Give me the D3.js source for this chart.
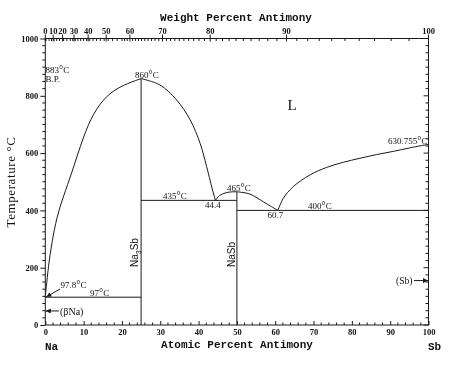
<!DOCTYPE html>
<html>
<head>
<meta charset="utf-8">
<script src="https://cdn.jsdelivr.net/npm/d3@7"></script>
<style>
  body { margin: 0; background: #fff; }
  svg { display: block; background: #fff; filter: grayscale(1); }
  text { fill: #111; }
</style>
</head>
<body>
<script>
// Na-Sb phase diagram

const W = 474, H = 372;

// axis tick values
const atTicks = [0, 10, 20, 30, 40, 50, 60, 70, 80, 90, 100];
const wtTicks = [0, 10, 20, 30, 40, 50, 60, 70, 80, 90, 100];
const tempTicks = [0, 200, 400, 600, 800, 1000];

// liquidus curves [at% Sb, T degC]
const liqNa = [[0, 97.8], [0.2, 125], [0.8, 205], [1.7, 287], [3.0, 378], [4.7, 448],
  [6.9, 530], [9.9, 657], [12.5, 739], [16, 803], [20.3, 838], [25, 860]];
const liqNa3SbRight = [[25, 860], [29.9, 838], [34.3, 785], [37.8, 716], [40.4, 634],
  [42.1, 553], [43.5, 478], [44.4, 435]];
const liqNaSbLeft = [[44.4, 435], [45.5, 452], [47, 461], [48.5, 464.5], [50, 465]];
const liqNaSbRight = [[50, 465], [53.4, 457], [56.9, 430], [58.8, 415], [60.7, 400]];
const liqSb = [[60.7, 400], [62.1, 442], [64.7, 483], [69.1, 524], [73.4, 550], [77.8, 568],
  [82.1, 582], [86.5, 595], [90.8, 606], [95.2, 618.5], [100, 630.755]];

// invariant lines and compounds
const horizLines = [[0, 25, 97], [25, 50, 435], [50, 100, 400]];
const compounds = [[25, 860], [50, 465]];

const svg = d3.select("body").append("svg").attr("width", W).attr("height", H);

const x = d3.scaleLinear().domain([0, 100]).range([45.3, 428.5]);
const y = d3.scaleLinear().domain([0, 1000]).range([325, 38.5]);

// weight % Sb -> atomic % Sb
const wtToAt = w => w >= 100 ? 100 : 100 * (w / 121.76) / (w / 121.76 + (100 - w) / 22.99);

const ink = "#1a1a1a";
const tickFont = "'Liberation Serif', serif";
const monoFont = "'Liberation Mono', 'DejaVu Sans Mono', monospace";

// frame
svg.append("rect")
  .attr("x", x(0)).attr("y", y(1000))
  .attr("width", x(100) - x(0)).attr("height", y(0) - y(1000))
  .attr("fill", "none").attr("stroke", ink).attr("stroke-width", 1);

// left axis
const gl = svg.append("g").attr("transform", `translate(${x(0)},0)`)
  .call(d3.axisLeft(y).tickValues(tempTicks).tickFormat(d3.format("d"))
    .tickSize(5).tickSizeOuter(0).tickPadding(2));
gl.select(".domain").remove();
gl.selectAll("line").attr("stroke", ink);
gl.selectAll("text").attr("font-family", tickFont).attr("font-size", 8.5)
  .attr("font-weight", "bold").attr("fill", ink);

const minorT = d3.range(0, 1001, 25).filter(t => t % 200 !== 0);
svg.append("g").selectAll("line").data(minorT).join("line")
  .attr("x1", x(0) - 3).attr("x2", x(0))
  .attr("y1", d => y(d)).attr("y2", d => y(d)).attr("stroke", ink);

// right axis ticks (inward)
svg.append("g").selectAll("line").data(d3.range(0, 1001, 25)).join("line")
  .attr("x1", d => x(100) - (d % 200 === 0 ? 5 : 3)).attr("x2", x(100))
  .attr("y1", d => y(d)).attr("y2", d => y(d)).attr("stroke", ink);

// bottom axis
const gb = svg.append("g").attr("transform", `translate(0,${y(0)})`)
  .call(d3.axisBottom(x).tickValues(atTicks).tickSize(-4).tickSizeOuter(0).tickPadding(4));
gb.select(".domain").remove();
gb.selectAll("line").attr("stroke", ink);
gb.selectAll("text").attr("font-family", tickFont).attr("font-size", 8.5)
  .attr("font-weight", "bold").attr("fill", ink);

svg.append("g").selectAll("line").data(d3.range(0, 101, 2).filter(d => d % 10 !== 0)).join("line")
  .attr("x1", d => x(d)).attr("x2", d => x(d))
  .attr("y1", y(0) - 2.5).attr("y2", y(0)).attr("stroke", ink);

// top axis (weight percent, nonlinear)
const gt = svg.append("g");
gt.selectAll("line.major").data(wtTicks).join("line").attr("class", "major")
  .attr("x1", d => x(wtToAt(d))).attr("x2", d => x(wtToAt(d)))
  .attr("y1", y(1000) - 4).attr("y2", y(1000) + 3).attr("stroke", ink);
gt.selectAll("text").data(wtTicks).join("text")
  .attr("x", d => x(wtToAt(d))).attr("y", y(1000) - 5)
  .attr("text-anchor", "middle")
  .attr("font-family", tickFont).attr("font-size", 8.5).attr("font-weight", "bold")
  .text(d => d);

let lastPx = -10;
const minorW = d3.range(1, 100, 1).filter(w => {
  if (w % 10 === 0) return false;
  const px = x(wtToAt(w));
  if (px - lastPx < 2.4) return false;
  lastPx = px;
  return true;
});
gt.selectAll("line.minor").data(minorW).join("line").attr("class", "minor")
  .attr("x1", d => x(wtToAt(d))).attr("x2", d => x(wtToAt(d)))
  .attr("y1", y(1000)).attr("y2", y(1000) + 2.5).attr("stroke", ink);

// axis titles
svg.append("text").attr("x", 236).attr("y", 21).attr("text-anchor", "middle")
  .attr("font-family", monoFont).attr("font-size", 11).attr("font-weight", "bold")
  .text("Weight Percent Antimony");
svg.append("text").attr("x", 237).attr("y", 348).attr("text-anchor", "middle")
  .attr("font-family", monoFont).attr("font-size", 11).attr("font-weight", "bold")
  .text("Atomic Percent Antimony");
svg.append("text").attr("x", 45).attr("y", 350)
  .attr("font-family", monoFont).attr("font-size", 11).attr("font-weight", "bold")
  .text("Na");
svg.append("text").attr("x", 428).attr("y", 350)
  .attr("font-family", monoFont).attr("font-size", 11).attr("font-weight", "bold")
  .text("Sb");
svg.append("text").attr("transform", "translate(14.5,182) rotate(-90)")
  .attr("text-anchor", "middle")
  .attr("font-family", tickFont).attr("font-size", 13).attr("letter-spacing", 0.6)
  .text("Temperature °C");

// phase boundaries
const smooth = d3.line().x(d => x(d[0])).y(d => y(d[1])).curve(d3.curveBasis);
const line = d3.line().x(d => x(d[0])).y(d => y(d[1])).curve(d3.curveCatmullRom.alpha(0.5));
const plot = svg.append("g").attr("fill", "none").attr("stroke", ink).attr("stroke-width", 1);
plot.append("path").attr("d", smooth(liqNa));
[liqNa3SbRight, liqNaSbLeft, liqNaSbRight, liqSb].forEach(c => {
  plot.append("path").attr("d", line(c));
});
plot.selectAll("line.h").data(horizLines).join("line").attr("class", "h")
  .attr("x1", d => x(d[0])).attr("x2", d => x(d[1]))
  .attr("y1", d => y(d[2])).attr("y2", d => y(d[2]));
plot.selectAll("line.v").data(compounds).join("line").attr("class", "v")
  .attr("x1", d => x(d[0])).attr("x2", d => x(d[0]))
  .attr("y1", y(0)).attr("y2", d => y(d[1]));

// arrowheads
svg.append("defs").append("marker").attr("id", "arr")
  .attr("viewBox", "0 0 10 10").attr("refX", 10).attr("refY", 5)
  .attr("markerWidth", 6).attr("markerHeight", 5).attr("markerUnits", "userSpaceOnUse")
  .attr("orient", "auto")
  .append("path").attr("d", "M0,0L10,5L0,10Z").attr("fill", ink);

const arrow = (x1, y1, x2, y2) => svg.append("line")
  .attr("x1", x1).attr("y1", y1).attr("x2", x2).attr("y2", y2)
  .attr("stroke", ink).attr("marker-end", "url(#arr)");

arrow(60, 289, x(0) + 1, y(97.8));
arrow(59, y(49), x(0) + 0.5, y(49));
arrow(414, y(155), x(100) - 0.5, y(155));

// labels
const lab = (px, py, parts, size = 9, anchor = "start") => {
  const t = svg.append("text").attr("x", px).attr("y", py)
    .attr("font-family", tickFont).attr("font-size", size).attr("text-anchor", anchor);
  parts.forEach(p => {
    const s = t.append("tspan").text(p.t);
    if (p.deg) s.attr("font-size", size * 1.15);
  });
  return t;
};
const degLabel = (px, py, v) => lab(px, py, [{ t: v }, { t: "°", deg: true }, { t: "C" }]);

degLabel(45.5, 73, "883");
lab(45.5, 82, [{ t: "B.P." }]);
degLabel(135, 77.5, "860");
degLabel(163, 199, "435");
lab(205, 208, [{ t: "44.4" }]);
degLabel(227, 190.5, "465");
lab(267.5, 217.5, [{ t: "60.7" }]);
degLabel(308, 209, "400");
degLabel(388, 143.5, "630.755");
degLabel(60.5, 287.5, "97.8");
degLabel(90, 296, "97");
lab(60, 314.5, [{ t: "(βNa)" }], 10);
lab(396, 284, [{ t: "(Sb)" }], 9.5);
lab(287.5, 110, [{ t: "L" }], 15);

// compound names (vertical)
const na3sb = svg.append("text").attr("transform", "translate(137.5,267) rotate(-90)")
  .attr("font-family", "'Liberation Sans', sans-serif").attr("font-size", 10);
na3sb.append("tspan").text("Na");
na3sb.append("tspan").attr("dy", 3).attr("font-size", 7).text("3");
na3sb.append("tspan").attr("dy", -3).text("Sb");
svg.append("text").attr("transform", "translate(235,267) rotate(-90)")
  .attr("font-family", "'Liberation Sans', sans-serif").attr("font-size", 10)
  .text("NaSb");
</script>
</body>
</html>
